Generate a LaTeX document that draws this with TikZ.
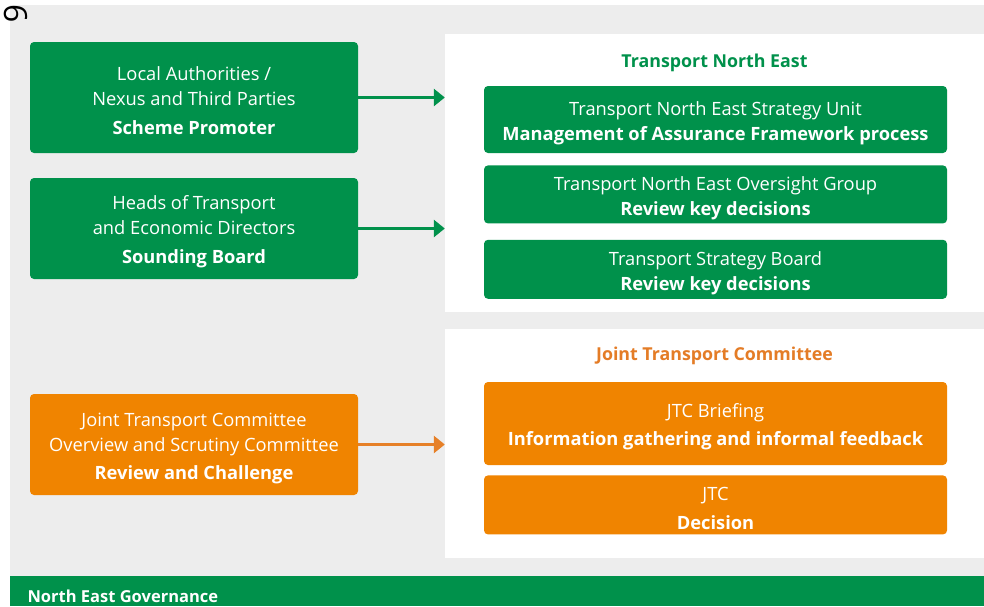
\documentclass[tikz,border=0pt]{standalone}
\usepackage{fontspec}
\setmainfont{Open Sans}
\usetikzlibrary{positioning,arrows.meta}
\definecolor{negreen}{RGB}{0,145,75}
\definecolor{neorange}{RGB}{240,132,0}
\definecolor{arroworange}{RGB}{230,128,40}
\definecolor{titleorange}{RGB}{228,124,38}
\definecolor{bggrey}{RGB}{237,237,237}
\newcommand\boxtop{\rule{0pt}{21pt}}

\begin{document}
\begin{tikzpicture}[
  x=1pt, y=-1pt,
  font=\fontsize{18.3}{25}\selectfont,
  node distance=12pt,
  box/.style={rounded corners=4pt, align=center, text=white, inner sep=0pt},
  leftbox/.style={box, minimum width=328pt, minimum height=101pt},
  innerbox/.style={box, minimum width=463pt},
  panel/.style={fill=white, minimum width=539pt, inner sep=0pt},
  title/.style={font=\fontsize{17.8}{20}\selectfont\bfseries},
  arr/.style={-{Triangle[length=11pt, width=17pt]}, line width=3pt},
]
\useasboundingbox (0,0) rectangle (984,606);
\fill[bggrey] (10,5) rectangle (984,576);

% left column
\node[leftbox, fill=negreen, minimum height=111pt] (promoter) at (194,97.5)
  {\boxtop Local Authorities /\\Nexus and Third Parties\\[4pt]\textbf{Scheme Promoter}};
\node[leftbox, fill=negreen] (sounding) at (194,228.5)
  {\boxtop Heads of Transport\\and Economic Directors\\[4pt]\textbf{Sounding Board}};
\node[leftbox, fill=neorange] (scrutiny) at (194,444.5)
  {\boxtop Joint Transport Committee\\Overview and Scrutiny Committee\\[3pt]\textbf{Review and Challenge}};

% right panels
\node[panel, minimum height=278pt] (tnepanel) at (714.5,173) {};
\node[title, text=negreen] (tnetitle) at ([yshift=-29pt]tnepanel.north) {Transport North East};
\node[innerbox, fill=negreen, minimum height=67pt] (unit) at (715.5,119.5)
  {\boxtop Transport North East Strategy Unit\\\textbf{Management of Assurance Framework process}};
\node[innerbox, fill=negreen, minimum height=58pt, below=of unit] (oversight)
  {\boxtop Transport North East Oversight Group\\\textbf{Review key decisions}};
\node[innerbox, fill=negreen, minimum height=59pt, below=16pt of oversight] (board)
  {\boxtop Transport Strategy Board\\\textbf{Review key decisions}};

\node[panel, minimum height=229pt] (jtcpanel) at (714.5,443.5) {};
\node[title, text=titleorange] (jtctitle) at ([yshift=-27pt]jtcpanel.north) {Joint Transport Committee};
\node[innerbox, fill=neorange, minimum height=83pt] (briefing) at (715.5,423.5)
  {\boxtop JTC Briefing\\[3pt]\textbf{Information gathering and informal feedback}};
\node[innerbox, fill=neorange, minimum height=59pt, below=10pt of briefing] (decision)
  {\boxtop JTC\\[4pt]\textbf{Decision}};

% arrows
\draw[arr, negreen] (promoter.east) -- (promoter.east -| tnepanel.west);
\draw[arr, negreen] (sounding.east) -- (sounding.east -| tnepanel.west);
\draw[arr, arroworange] (scrutiny.east) -- (scrutiny.east -| jtcpanel.west);

% footer
\fill[negreen] (10,576) rectangle (984,606);
\node[anchor=west, text=white, font=\fontsize{16.5}{18}\selectfont\bfseries] (govlabel) at (24,596) {North East Governance};
\node[rotate=-90, font=\fontsize{32}{32}\selectfont] (pagemark) at (16,14) {6};
\end{tikzpicture}
\end{document}
